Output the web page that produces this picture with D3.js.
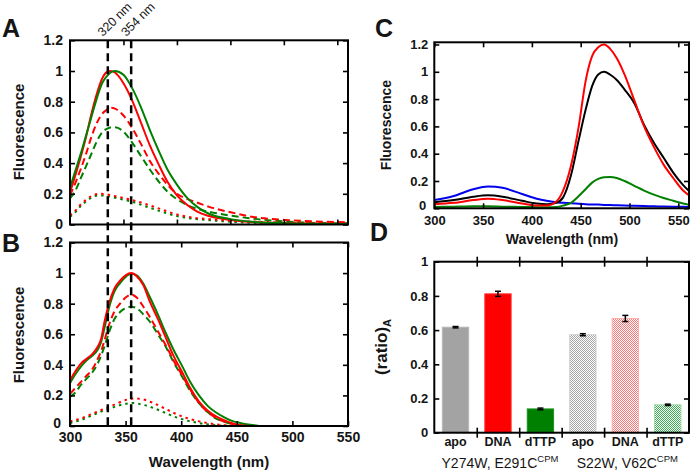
<!DOCTYPE html>
<html><head><meta charset="utf-8">
<script src="https://cdn.jsdelivr.net/npm/d3@7"></script>
<style>
body{margin:0;background:#fff}
svg{display:block}
text{font-family:Arial,"Liberation Sans",sans-serif;fill:#151515}
</style>
</head><body>
<svg id="fig" width="692" height="473"></svg>
<script>
// ---------------- DATA ----------------
// Panel A (normalised emission spectra)
const aWl = [300,305,310,315,320,325,330,335,338,342,350,358,366,375,383,391,400,410,420,430,450,475,500,530,560];
const aRedSolid   = [0.21,0.32,0.44,0.57,0.72,0.85,0.95,0.995,1.0,0.99,0.92,0.81,0.67,0.51,0.39,0.28,0.19,0.125,0.08,0.055,0.03,0.015,0.01,0.006,0.005];
const aGreenSolid = [0.24,0.35,0.46,0.58,0.70,0.82,0.92,0.97,0.99,1.0,0.975,0.89,0.77,0.61,0.48,0.36,0.26,0.17,0.11,0.07,0.035,0.015,0.008,0.004,0.003];
const aRedDash    = [0.19,0.27,0.36,0.46,0.57,0.66,0.72,0.75,0.76,0.755,0.71,0.63,0.53,0.41,0.33,0.26,0.2,0.165,0.14,0.115,0.08,0.045,0.03,0.02,0.015];
const aGreenDash  = [0.17,0.22,0.30,0.38,0.46,0.54,0.60,0.625,0.632,0.633,0.605,0.535,0.45,0.355,0.28,0.215,0.165,0.125,0.1,0.083,0.058,0.035,0.02,0.01,0.008];
const aWlDot = [300,305,310,315,320,327,335,345,358,370,385,400,415,430,450,475,500,530,560];
const aRedDot   = [0.06,0.09,0.13,0.16,0.185,0.2,0.195,0.18,0.16,0.135,0.1,0.065,0.045,0.035,0.025,0.018,0.012,0.008,0.005];
const aGreenDot = [0.05,0.08,0.12,0.15,0.175,0.19,0.185,0.17,0.148,0.12,0.085,0.055,0.038,0.028,0.018,0.01,0.006,0.004,0.003];

// Panel B
const bWl = [300,305,310,315,320,325,328,331,335,340,345,350,355,360,366,372,379,386,393,401,408,416,424,431,438,445,453,462,470];
const bRedSolid   = [0.30,0.36,0.41,0.44,0.47,0.52,0.57,0.68,0.80,0.90,0.95,0.985,1.0,0.98,0.92,0.81,0.70,0.58,0.46,0.35,0.25,0.16,0.10,0.065,0.04,0.02,0.005,0,0];
const bGreenSolid = [0.28,0.34,0.39,0.43,0.46,0.50,0.55,0.64,0.77,0.88,0.935,0.975,0.995,0.985,0.93,0.84,0.73,0.61,0.50,0.39,0.29,0.20,0.13,0.09,0.06,0.035,0.02,0.008,0];
const bRedDash    = [0.21,0.25,0.29,0.33,0.37,0.44,0.49,0.56,0.66,0.75,0.80,0.84,0.86,0.84,0.78,0.71,0.62,0.53,0.43,0.33,0.24,0.15,0.09,0.055,0.03,0.015,0.003,0,0];
const bGreenDash  = [0.19,0.22,0.27,0.31,0.35,0.41,0.46,0.52,0.61,0.70,0.745,0.77,0.78,0.77,0.73,0.68,0.60,0.52,0.42,0.32,0.23,0.15,0.09,0.05,0.03,0.015,0.005,0,0];
const bWlDot = [300,310,320,330,340,350,357,365,375,385,395,405,415,425,435,445,455];
const bRedDot   = [0.03,0.05,0.08,0.11,0.14,0.17,0.18,0.175,0.15,0.115,0.08,0.052,0.032,0.018,0.008,0.002,0];
const bGreenDot = [0.02,0.04,0.07,0.10,0.125,0.145,0.15,0.14,0.118,0.088,0.058,0.036,0.02,0.01,0.003,0,0];

// marker lines (wavelength positions) and their labels
const markerWl = [334, 355];
const markerLabels = ["320 nm", "354 nm"];

// Panel C
const cWl = [300,320,340,355,370,390,405,415,425,432,440,448,455,462,468,474,480,487,495,505,515,525,535,545,555,562];
const cRed   = [0.03,0.04,0.06,0.07,0.06,0.035,0.02,0.02,0.05,0.13,0.31,0.6,0.93,1.12,1.18,1.2,1.17,1.1,0.98,0.79,0.6,0.45,0.32,0.22,0.13,0.09];
const cBlack = [0.045,0.06,0.085,0.095,0.085,0.055,0.035,0.03,0.04,0.08,0.24,0.5,0.72,0.9,0.98,1.0,0.98,0.94,0.87,0.77,0.61,0.48,0.37,0.26,0.17,0.12];
const cGreen = [0.01,0.012,0.015,0.015,0.012,0.01,0.008,0.008,0.01,0.02,0.04,0.09,0.14,0.19,0.215,0.228,0.23,0.222,0.2,0.165,0.13,0.1,0.075,0.055,0.035,0.025];
const cBlue  = [0.06,0.09,0.14,0.16,0.15,0.105,0.07,0.055,0.045,0.04,0.037,0.033,0.03,0.028,0.027,0.025,0.024,0.022,0.02,0.018,0.016,0.015,0.013,0.012,0.011,0.01];

// Panel D
const dCategories = ["apo","DNA","dTTP","apo","DNA","dTTP"];
const dValues = [0.617,0.812,0.139,0.573,0.668,0.163];
const dErrors = [0.004,0.015,0.005,0.006,0.018,0.004];
const dGroups = [{name:"Y274W, E291C", sup:"CPM"},{name:"S22W, V62C", sup:"CPM"}];

const yTicks12 = [0,0.2,0.4,0.6,0.8,1,1.2];
const yTicks1 = [0,0.2,0.4,0.6,0.8,1];
const xTicksNm = [300,350,400,450,500,550];

// ---------------- DRAW ----------------
const svg = d3.select("#fig");
const RED = "#ff0000", GREEN = "#008000", BLACK = "#000000", BLUE = "#0000ee";
const fmt = v => String(+v.toFixed(1));

const defs = svg.append("defs");
function clip(id, x0, x1, y0, y1){
  defs.append("clipPath").attr("id", id).append("rect")
    .attr("x", x0).attr("y", y0).attr("width", x1 - x0).attr("height", y1 - y0);
}

function axes(g, x, y, opt){
  const [x0,x1] = x.range(), [y1,y0] = y.range();
  const ts = 5;
  const left = g.append("g").attr("transform",`translate(${x0},0)`)
    .call(d3.axisLeft(y).tickValues(opt.yTicks).tickSize(-ts).tickPadding(opt.yPad).tickFormat(opt.yLabels ? fmt : ""));
  const right = g.append("g").attr("transform",`translate(${x1},0)`)
    .call(d3.axisRight(y).tickValues(opt.yTicks).tickSize(-ts).tickFormat(""));
  const bottom = g.append("g").attr("transform",`translate(0,${y1})`)
    .call(d3.axisBottom(x).tickValues(opt.xTicks).tickSize(-ts).tickPadding(opt.xPad).tickFormat(opt.xLabels ? (d=>d) : ""));
  const top = g.append("g").attr("transform",`translate(0,${y0})`)
    .call(d3.axisTop(x).tickValues(opt.xTicks).tickSize(-ts).tickFormat(""));
  [left,right,bottom,top].forEach(a=>{
    a.select(".domain").remove();
    a.selectAll(".tick line").attr("stroke","#000").attr("stroke-width",1.6);
    a.selectAll("text").attr("font-size",opt.fs).attr("font-weight","bold").attr("fill","#151515")
      .attr("font-family",'Arial,"Liberation Sans",sans-serif');
  });
  // nudge the "0" label up so it clears the x tick labels
  if (opt.xLabels) left.selectAll(".tick").filter(d=>d===0).select("text").attr("dy","0.1em").attr("dx","-2");
  g.append("rect").attr("x",x0).attr("y",y0).attr("width",x1-x0).attr("height",y1-y0)
    .attr("fill","none").attr("stroke","#000").attr("stroke-width",2);
}

function curve(g, x, y, wl, vals, color, dash, clipId){
  const line = d3.line().x((d,i)=>x(wl[i])).y(d=>y(d)).curve(d3.curveMonotoneX);
  g.append("path").attr("d", line(vals)).attr("fill","none").attr("stroke",color)
    .attr("stroke-width",2).attr("stroke-dasharray",dash||null)
    .attr("clip-path",`url(#${clipId})`);
}

// ----- Panel A -----
const xA = d3.scaleLinear().domain([300,560]).range([70,348]);
const yA = d3.scaleLinear().domain([0,1.2]).range([224.5,40.3]);
clip("clipA",70,348,40.3,224.5);
const gA = svg.append("g");
curve(gA,xA,yA,aWlDot,aGreenDot,GREEN,"2.5,4","clipA");
curve(gA,xA,yA,aWlDot,aRedDot,RED,"2.5,4","clipA");
curve(gA,xA,yA,aWl,aGreenDash,GREEN,"7,4","clipA");
curve(gA,xA,yA,aWl,aRedDash,RED,"7,4","clipA");
curve(gA,xA,yA,aWl,aRedSolid,RED,null,"clipA");
curve(gA,xA,yA,aWl,aGreenSolid,GREEN,null,"clipA");
axes(gA,xA,yA,{yTicks:yTicks12,xTicks:[350,400,450,500,550],yLabels:true,xLabels:false,yPad:7,xPad:6,fs:14});

// ----- Panel B -----
const xB = d3.scaleLinear().domain([300,550]).range([70,348]);
const yB = d3.scaleLinear().domain([0,1.2]).range([426,242.5]);
clip("clipB",70,348,242.5,426);
const gB = svg.append("g");
curve(gB,xB,yB,bWlDot,bGreenDot,GREEN,"2.5,4","clipB");
curve(gB,xB,yB,bWlDot,bRedDot,RED,"2.5,4","clipB");
curve(gB,xB,yB,bWl,bGreenDash,GREEN,"7,4","clipB");
curve(gB,xB,yB,bWl,bRedDash,RED,"7,4","clipB");
curve(gB,xB,yB,bWl,bGreenSolid,GREEN,null,"clipB");
curve(gB,xB,yB,bWl,bRedSolid,RED,null,"clipB");
axes(gB,xB,yB,{yTicks:yTicks12,xTicks:xTicksNm,yLabels:true,xLabels:true,yPad:7,xPad:6,fs:14});

// vertical dashed marker lines through A and B
markerWl.forEach((w,i)=>{
  const xp = xB(w);
  svg.append("line").attr("x1",xp).attr("x2",xp).attr("y1",yA(1.2)).attr("y2",yB(0))
    .attr("stroke","#000").attr("stroke-width",2.5).attr("stroke-dasharray","8,5");
  svg.append("text").attr("transform",`translate(${xp-5},${37}) rotate(-45)`)
    .attr("font-size",12.5).text(markerLabels[i]);
});

// axis titles A, B
svg.append("text").attr("transform","translate(24,132) rotate(-90)").attr("text-anchor","middle")
  .attr("font-size",15).attr("font-weight","bold").text("Fluorescence");
svg.append("text").attr("transform","translate(24,335) rotate(-90)").attr("text-anchor","middle")
  .attr("font-size",15).attr("font-weight","bold").text("Fluorescence");
svg.append("text").attr("x",209).attr("y",467).attr("text-anchor","middle")
  .attr("font-size",15).attr("font-weight","bold").text("Wavelength (nm)");

// ----- Panel C -----
const xC = d3.scaleLinear().domain([300,561]).range([434.3,689]);
const yC = d3.scaleLinear().domain([0,1.216]).range([208.3,42.3]);
clip("clipC",434.3,689,42.3,208.3);
const gC = svg.append("g");
curve(gC,xC,yC,cWl,cBlue,BLUE,null,"clipC");
curve(gC,xC,yC,cWl,cGreen,GREEN,null,"clipC");
curve(gC,xC,yC,cWl,cBlack,BLACK,null,"clipC");
curve(gC,xC,yC,cWl,cRed,RED,null,"clipC");
axes(gC,xC,yC,{yTicks:yTicks12,xTicks:xTicksNm,yLabels:true,xLabels:true,yPad:6,xPad:7.5,fs:13});
svg.append("text").attr("transform","translate(391,125) rotate(-90)").attr("text-anchor","middle")
  .attr("font-size",14).attr("font-weight","bold").text("Fluorescence");
svg.append("text").attr("x",562).attr("y",244).attr("text-anchor","middle")
  .attr("font-size",14).attr("font-weight","bold").text("Wavelength (nm)");

// ----- Panel D -----
const ids = d3.range(dCategories.length);
const xD = d3.scaleBand().domain(ids).range([434.3,689]).paddingInner(0.38).paddingOuter(0.19);
const xDb = d3.scaleLinear().domain([0,6]).range([434.3,689]);
const yD = d3.scaleLinear().domain([0,1]).range([432.7,261.7]);

function checker(id, color){
  const p = defs.append("pattern").attr("id",id).attr("width",2).attr("height",2).attr("patternUnits","userSpaceOnUse");
  p.append("rect").attr("width",2).attr("height",2).attr("fill","#fff");
  p.append("rect").attr("width",1).attr("height",1).attr("fill",color);
  p.append("rect").attr("x",1).attr("y",1).attr("width",1).attr("height",1).attr("fill",color);
}
checker("pGray","#a4a4a4");
checker("pRed","#ff7878");
checker("pGreen","#3aae50");
const fills = ["#a3a3a3","#ff0000","#008000","url(#pGray)","url(#pRed)","url(#pGreen)"];
const strokes = ["#b8b8b8","#ff3030","#1a901a","#cfcfcf","#ffb0b0","#9ed6a8"];

const gD = svg.append("g");
gD.selectAll("rect.bar").data(dValues).join("rect").attr("class","bar")
  .attr("x",(d,i)=>xD(i)).attr("width",xD.bandwidth())
  .attr("y",d=>yD(d)).attr("height",d=>yD(0)-yD(d))
  .attr("fill",(d,i)=>fills[i]).attr("stroke",(d,i)=>strokes[i]).attr("stroke-width",1);
gD.selectAll("g.err").data(dValues).join("g").attr("class","err").each(function(d,i){
  const g = d3.select(this), cx = xD(i)+xD.bandwidth()/2, e = dErrors[i];
  g.append("line").attr("x1",cx).attr("x2",cx).attr("y1",yD(d+e)).attr("y2",yD(d-e)).attr("stroke","#000").attr("stroke-width",1.5);
  [d+e,d-e].forEach(v=>g.append("line").attr("x1",cx-3).attr("x2",cx+3).attr("y1",yD(v)).attr("y2",yD(v)).attr("stroke","#000").attr("stroke-width",1.5));
});
const dl = gD.append("g").attr("transform","translate(434.3,0)")
  .call(d3.axisLeft(yD).tickValues(yTicks1).tickSize(-5).tickPadding(6).tickFormat(fmt));
const dr = gD.append("g").attr("transform","translate(689,0)")
  .call(d3.axisRight(yD).tickValues(yTicks1).tickSize(-5).tickFormat(""));
const bTicks = [1,2,3,4,5];
const db1 = gD.append("g").attr("transform","translate(0,432.7)").call(d3.axisBottom(xDb).tickValues(bTicks).tickSize(5).tickFormat(""));
const db2 = gD.append("g").attr("transform","translate(0,432.7)").call(d3.axisBottom(xDb).tickValues(bTicks).tickSize(-5).tickFormat(""));
const dt1 = gD.append("g").attr("transform","translate(0,261.7)").call(d3.axisTop(xDb).tickValues(bTicks).tickSize(5).tickFormat(""));
const dt2 = gD.append("g").attr("transform","translate(0,261.7)").call(d3.axisTop(xDb).tickValues(bTicks).tickSize(-5).tickFormat(""));
const dcat = gD.append("g").attr("transform","translate(0,432.7)")
  .call(d3.axisBottom(xD).tickSize(0).tickPadding(4.6).tickFormat(i=>dCategories[i]));
[dl,dr,db1,db2,dt1,dt2,dcat].forEach(a=>{
  a.select(".domain").remove();
  a.selectAll(".tick line").attr("stroke","#000").attr("stroke-width",1.6);
  a.selectAll("text").attr("font-weight","bold").attr("fill","#151515")
    .attr("font-family",'Arial,"Liberation Sans",sans-serif');
});
dl.selectAll("text").attr("font-size",13);
dcat.selectAll("text").attr("font-size",12.5);
gD.append("rect").attr("x",434.3).attr("y",261.7).attr("width",689-434.3).attr("height",432.7-261.7)
  .attr("fill","none").attr("stroke","#000").attr("stroke-width",2);
dGroups.forEach((grp,k)=>{
  const cx = xD(1+3*k)+xD.bandwidth()/2 + 2;
  const t = svg.append("text").attr("x",cx).attr("y",468).attr("text-anchor","middle").attr("font-size",14);
  t.append("tspan").text(grp.name);
  t.append("tspan").attr("dy",-6).attr("font-size",9.5).text(grp.sup);
});
const yl = svg.append("text").attr("transform","translate(387,347) rotate(-90)").attr("text-anchor","middle")
  .attr("font-size",17).attr("font-weight","bold");
yl.append("tspan").text("(ratio)");
yl.append("tspan").attr("dy",4).attr("font-size",11).text("A");

// panel letters
[["A",2,37],["B",2,252],["C",375,37],["D",370,241]].forEach(([t,x,y])=>{
  svg.append("text").attr("x",x).attr("y",y).attr("font-size",25).attr("font-weight","bold").attr("fill","#000").text(t);
});
</script>
</body></html>
